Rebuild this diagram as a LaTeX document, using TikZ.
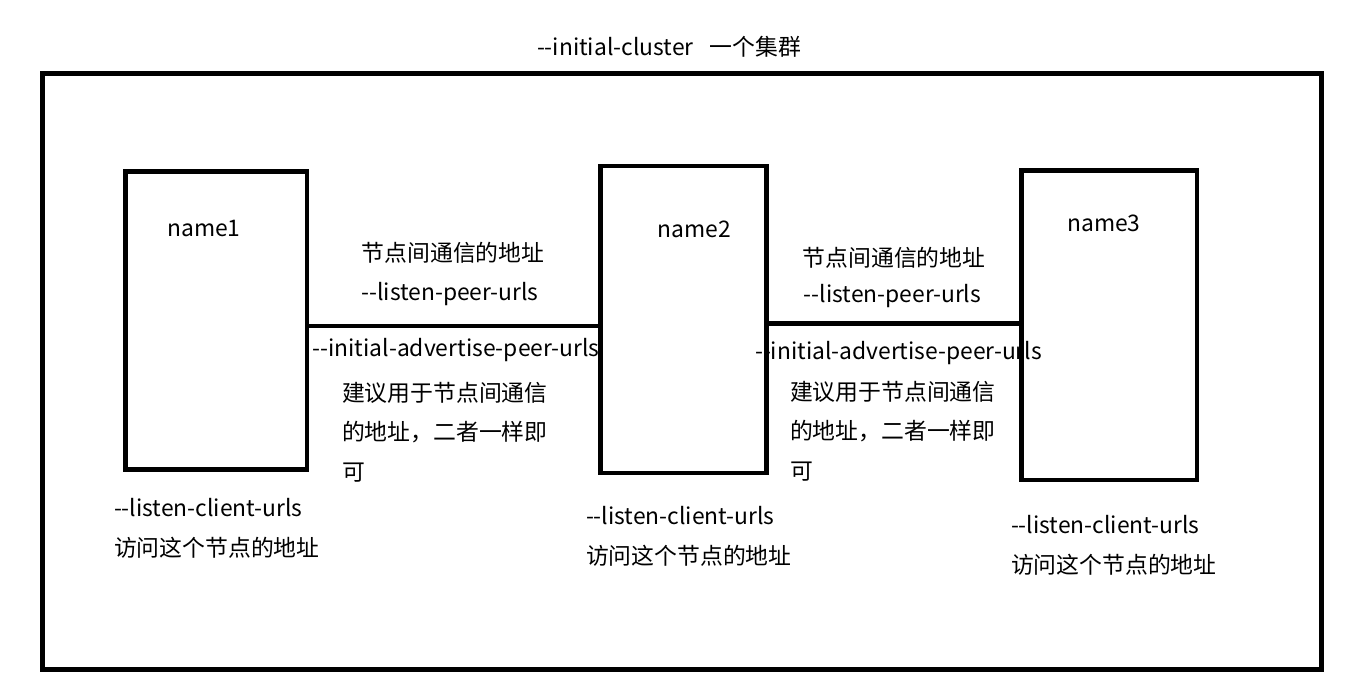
\documentclass[tikz,border=0pt]{standalone}
\usepackage{fontspec}
\setmainfont{Noto Sans CJK SC}[Ligatures=TeXOff]
\begin{document}
\begin{tikzpicture}
	\tikzstyle{member} = [draw, line width=0.09cm, inner sep=0, minimum width=3.5cm]
	\tikzstyle{label} = [inner sep=0, outer sep=0, font=\fontsize{13}{22.4}\selectfont]
	\tikzstyle{note} = [label, align=left, anchor=west]
	\tikzstyle{link} = [line width=0.09cm]
\useasboundingbox (0,0) rectangle (26.96,-13.76);
\draw [line width=0.1cm] (0.84,-1.46) rectangle (26.42,-13.38);
\node [member, minimum width=3.63cm, minimum height=5.96cm] (n1) at (4.325,-6.41) {};
\node [member, minimum width=3.32cm, minimum height=6.14cm] (n2) at (13.67,-6.39) {};
\node [member, minimum width=3.51cm, minimum height=6.19cm] (n3) at (22.185,-6.505) {};
\draw [link] ([yshift=-1.05mm]n1.east) edge ([yshift=-1.05mm]n1.east -| n2.west);
\draw [link] ([yshift=-0.76mm]n2.east) edge ([yshift=-0.76mm]n2.east -| n3.west);

\node [label, anchor=west] (title) at (10.74,-0.94) {--initial-cluster\hspace{0.7em}一个集群};
\node [label] (name1) at (4.08,-4.56) {name1};
\node [label] (name2) at (13.89,-4.58) {name2};
\node [label] (name3) at (22.08,-4.46) {name3};
\node [label] (peer1) at (9.06,-5.06) {节点间通信的地址};
\node [label] (listen1) at (9.0,-5.88) {--listen-peer-urls};
\node [label] (adv1) at (9.12,-7.0) {--initial-advertise-peer-urls};
\node [note] (tip1) at (6.84,-8.64) {建议用于节点间通信\\的地址，二者一样即\\可};
\node [label] (peer2) at (17.88,-5.16) {节点间通信的地址};
\node [label] (listen2) at (17.85,-5.92) {--listen-peer-urls};
\node [label] (adv2) at (17.97,-7.06) {--initial-advertise-peer-urls};
\node [note] (tip2) at (15.8,-8.62) {建议用于节点间通信\\的地址，二者一样即\\可};
\node [note, font=\fontsize{13}{22.7}\selectfont] (client1) at (2.28,-10.56) {--listen-client-urls\\访问这个节点的地址};
\node [note, font=\fontsize{13}{22.7}\selectfont] (client2) at (11.72,-10.72) {--listen-client-urls\\访问这个节点的地址};
\node [note, font=\fontsize{13}{22.7}\selectfont] (client3) at (20.22,-10.9) {--listen-client-urls\\访问这个节点的地址};
\end{tikzpicture}
\end{document}
